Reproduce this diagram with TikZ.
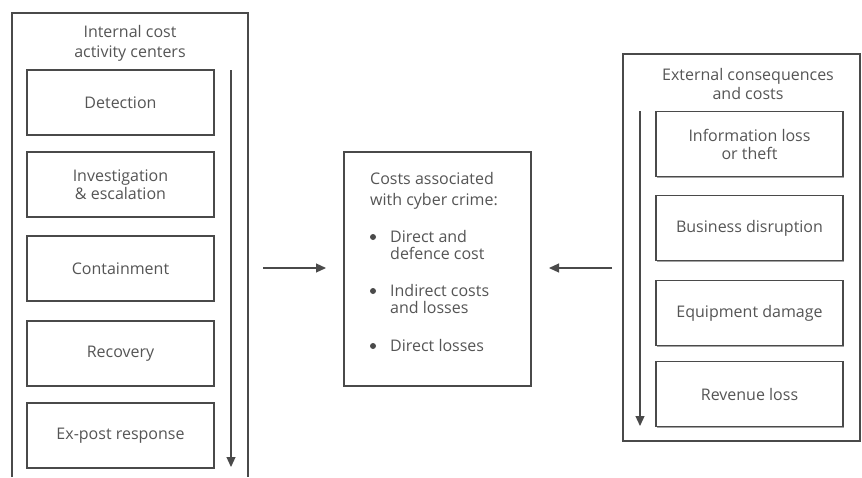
\documentclass[tikz,border=0pt]{standalone}
\usepackage{fontspec}
\setmainfont{Open Sans}
\usetikzlibrary{arrows.meta,shadows}
\definecolor{ink}{HTML}{4A4A4A}
\definecolor{txt}{HTML}{555555}
\tikzset{
  boxshadow/.style={drop shadow={shadow xshift=1pt, shadow yshift=-1.3pt, fill=black!45, opacity=0.8}},
  stage/.style={draw=ink, line width=1.2pt, minimum width=187pt, minimum height=65pt,
    align=center, font=\fontsize{16}{18}\selectfont, text=txt, fill=white, boxshadow},
  panel/.style={draw=ink, line width=1.2pt},
  flow/.style={draw=ink, line width=1.2pt, -{Triangle[length=10pt,width=9pt]}},
  heading/.style={align=center, font=\fontsize{16}{20}\selectfont, text=txt},
  listtext/.style={anchor=north west, align=left, font=\fontsize{16}{17.5}\selectfont, text=txt, inner sep=0pt},
  dot/.style={fill=ink, circle, inner sep=0pt, minimum size=6pt},
}
\begin{document}
\begin{tikzpicture}[x=1pt,y=-1pt]
\useasboundingbox (0,0) rectangle (862,477);
% left panel, open at the lower edge
\draw[panel] (12,477) -- (12,13) -- (248,13) -- (248,477);
\node[heading] (lt) at (130,43) {Internal cost\\activity centers};
\node[stage] (det) at (120.5,102.5) {Detection};
\node[stage] (inv) at (120.5,184.5) {Investigation\\\& escalation};
\node[stage] (con) at (120.5,268.5) {Containment};
\node[stage] (rec) at (120.5,353.5) {Recovery};
\node[stage] (exp) at (120.5,435.5) {Ex-post response};
\coordinate (la1) at (231,70);
\coordinate (la2) at (231,467);
\draw[flow] (la1) -- (la2);
% centre box
\node[draw=ink, line width=1.2pt, minimum width=187pt, minimum height=234pt, fill=white, boxshadow]
  (mid) at (437.5,269) {};
\node[listtext, font=\fontsize{16}{21}\selectfont] (midt) at (370,172) {Costs associated\\with cyber crime:};
\node[listtext] (b1) at (390,230) {Direct and\\defence cost};
\node[listtext] (b2) at (390,284) {Indirect costs\\and losses};
\node[listtext] (b3) at (390,339) {Direct losses};
\node[dot] (d1) at (373,237) {};
\node[dot] (d2) at (373,291) {};
\node[dot] (d3) at (373,346) {};
% connectors into the centre box
\coordinate (ain) at (263,268);
\coordinate (aout) at (612,268);
\draw[flow] (ain) -- ++(63,0);
\draw[flow] (aout) -- ++(-63,0);
% right panel
\draw[panel] (623,54) rectangle (860,441);
\node[heading, font=\fontsize{16}{18.5}\selectfont] (rt) at (748,84) {External consequences\\and costs};
\node[stage] (inf) at (749.5,144) {Information loss\\or theft};
\node[stage] (bus) at (749.5,228) {Business disruption};
\node[stage] (equ) at (749.5,313) {Equipment damage};
\node[stage] (rev) at (749.5,394) {Revenue loss};
\coordinate (ra1) at (640,111);
\coordinate (ra2) at (640,426);
\draw[flow] (ra1) -- (ra2);
\end{tikzpicture}
\end{document}
